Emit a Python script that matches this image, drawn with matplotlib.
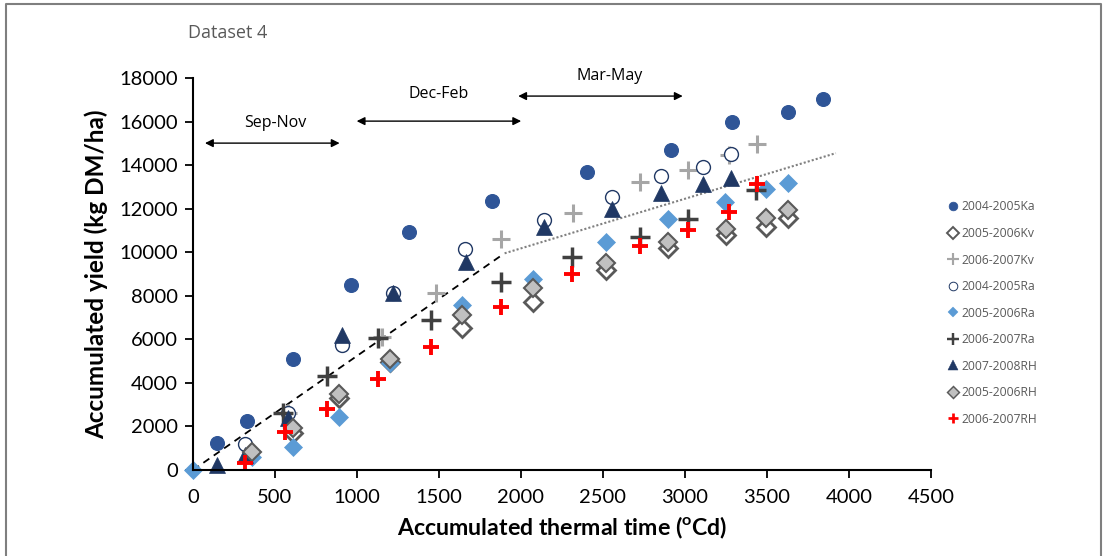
import matplotlib
matplotlib.use("Agg")
import matplotlib.pyplot as plt
from matplotlib.lines import Line2D

plt.rcParams['font.family'] = ['Lato', 'DejaVu Sans']
plt.rcParams['mathtext.fontset'] = 'custom'
plt.rcParams['mathtext.rm'] = 'Lato'
plt.rcParams['mathtext.bf'] = 'Lato:bold'

# ---------------- data ----------------
ka_x = [146, 328, 608, 961, 1320, 1825, 2403, 2914, 3285, 3625, 3844]
ka_y = [1240, 2250, 5100, 8490, 10930, 12350, 13680, 14690, 15980, 16440, 17030]

kv56_x = [608, 888, 1204, 1642, 2074, 2518, 2895, 3248, 3491, 3631]
kv56_y = [1700, 3300, 4960, 6520, 7710, 9180, 10190, 10790, 11160, 11570]

kv67_x = [578, 1150, 1484, 1880, 2318, 2725, 3017, 3266, 3437]
kv67_y = [2600, 6100, 8130, 10600, 11800, 13220, 13770, 14460, 14970]

ra45_x = [316, 578, 906, 1217, 1661, 2141, 2555, 2853, 3108, 3279]
ra45_y = [1190, 2620, 5740, 8150, 10150, 11480, 12530, 13500, 13910, 14510]

ra56_x = [0, 359, 608, 888, 1204, 1642, 2074, 2518, 2895, 3242, 3491, 3625]
ra56_y = [0, 600, 1060, 2430, 4900, 7570, 8770, 10470, 11520, 12300, 12900, 13180]

ra67_x = [547, 815, 1125, 1454, 1880, 2311, 2725, 3017, 3431]
ra67_y = [2620, 4320, 6060, 6890, 8630, 9800, 10680, 11540, 12850]

rh78_x = [146, 316, 578, 906, 1217, 1667, 2141, 2555, 2853, 3108, 3279]
rh78_y = [230, 690, 2390, 6200, 8130, 9550, 11160, 12000, 12740, 13130, 13420]

rh56_x = [359, 608, 888, 1204, 1642, 2074, 2518, 2895, 3248, 3491, 3631]
rh56_y = [830, 1930, 3490, 5100, 7140, 8360, 9500, 10490, 11080, 11570, 11940]

rh67_x = [316, 560, 815, 1131, 1454, 1880, 2311, 2725, 3017, 3266, 3437]
rh67_y = [320, 1745, 2800, 4180, 5650, 7480, 9000, 10280, 11020, 11850, 13130]

dash_x = [0, 1880]
dash_y = [0, 9850]
dot_x = [1900, 3920]
dot_y = [9950, 14550]

periods = ["Sep-Nov", "Dec-Feb", "Mar-May"]
period_x0 = [73, 998, 1983]
period_x1 = [894, 2001, 2986]
period_y = [15010, 16020, 17170]
label_x = [499, 1496, 2543]
label_y = [15930, 17260, 18090]

xticks = [0, 500, 1000, 1500, 2000, 2500, 3000, 3500, 4000, 4500]
yticks = [0, 2000, 4000, 6000, 8000, 10000, 12000, 14000, 16000, 18000]

# ---------------- figure ----------------
fig = plt.figure(figsize=(11.04, 5.56), dpi=100)
ax = fig.add_axes([193/1104, 1-470/556, 738/1104, 392/556])
ax.set_xlim(0, 4500)
ax.set_ylim(0, 18000)

series = [
    ("2004-2005Ka", ka_x, ka_y, dict(marker='o', ms=10, mfc='#2F5597', mec='#2F5597', mew=0.8)),
    ("2005-2006Kv", kv56_x, kv56_y, dict(marker='D', ms=9.5, mfc='white', mec='#595959', mew=2)),
    ("2006-2007Kv", kv67_x, kv67_y, dict(marker='+', ms=13, mec='#A6A6A6', mew=2.2)),
    ("2004-2005Ra", ra45_x, ra45_y, dict(marker='o', ms=10, mfc='white', mec='#203864', mew=1.0)),
    ("2005-2006Ra", ra56_x, ra56_y, dict(marker='D', ms=9, mfc='#5B9BD5', mec='#5B9BD5', mew=0.5)),
    ("2006-2007Ra", ra67_x, ra67_y, dict(marker='+', ms=14, mec='#404040', mew=2.5)),
    ("2007-2008RH", rh78_x, rh78_y, dict(marker='^', ms=12, mfc='#203864', mec='#203864', mew=0.5)),
    ("2005-2006RH", rh56_x, rh56_y, dict(marker='D', ms=9.5, mfc='#C0C0C0', mec='#595959', mew=1.5)),
    ("2006-2007RH", rh67_x, rh67_y, dict(marker='+', ms=11, mec='#FF0000', mew=2.8)),
]

handles = []
for name, xs, ys, st in series:
    ax.plot(xs, ys, ls='none', clip_on=False, **st)
    hst = dict(st)
    hst['ms'] = st['ms'] * 0.62
    hst['mew'] = st['mew'] * 0.7
    handles.append(Line2D([], [], ls='none', label=name, **hst))

ax.plot(dash_x, dash_y, ls=(0, (4, 3)), color='black', lw=1.3, zorder=1)
ax.plot(dot_x, dot_y, ls=(0, (1, 1)), color='#808080', lw=1.5, zorder=1)

for p, x0, x1, yy, lx, ly in zip(periods, period_x0, period_x1, period_y, label_x, label_y):
    ax.annotate('', xy=(x0, yy), xytext=(x1, yy), annotation_clip=False,
                arrowprops=dict(arrowstyle='<|-|>', color='black', lw=1.0,
                                mutation_scale=12, shrinkA=0, shrinkB=0))
    ax.text(lx, ly, p, ha='center', va='center', fontsize=11.5, family=['Open Sans', 'DejaVu Sans'])

for s in ['top', 'right']:
    ax.spines[s].set_visible(False)
for s in ['left', 'bottom']:
    ax.spines[s].set_linewidth(1.5)
    ax.spines[s].set_color('black')

ax.set_xticks(xticks)
ax.set_yticks(yticks)
ax.tick_params(axis='both', direction='out', length=6, width=1.3, labelsize=14.5, pad=5)
ax.tick_params(axis='x', pad=8)

ax.set_xlabel("Accumulated thermal time ($^{\\mathbf{o}}$Cd)", fontsize=16.7, fontweight='bold', labelpad=6)
ax.set_ylabel("Accumulated yield (kg DM/ha)", fontsize=17.5, fontweight='bold', labelpad=8)

fig.text(188/1104, 1-33/556, "Dataset 4", fontsize=13, color='#595959', va='center', ha='left',
         family=['Open Sans', 'DejaVu Sans'])

leg = fig.legend(handles=handles, loc='upper left', bbox_to_anchor=(940/1104, 1-192/556),
                 frameon=False, labelspacing=1.12, handlelength=0.8,
                 handletextpad=0.3, borderpad=0.2, prop={'family': ['Open Sans', 'DejaVu Sans'], 'size': 8.7})
for t in leg.get_texts():
    t.set_color('#595959')

# outer frame
fx0, fx1, fy1 = 6/1104, 1101/1104, 1-4/556
fig.add_artist(Line2D([fx0, fx0, fx1, fx1], [0, fy1, fy1, 0], transform=fig.transFigure,
                      color='#7F7F7F', lw=1.5))

fig.savefig("out.png", dpi=100)
